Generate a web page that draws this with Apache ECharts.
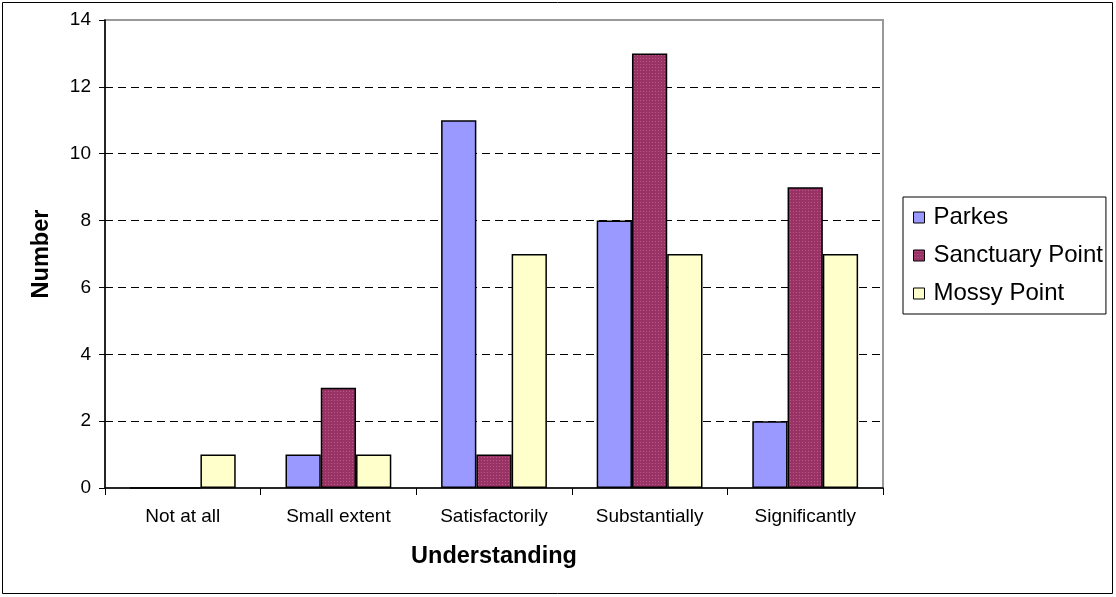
<!DOCTYPE html>
<html>
<head>
<meta charset="utf-8">
<script src="https://cdn.jsdelivr.net/npm/echarts@6/dist/echarts.min.js"></script>
<style>
  html, body { margin: 0; padding: 0; background: #fff; }
  #chart { width: 1116px; height: 597px; }
</style>
</head>
<body>
<div id="chart"></div>
<script>
const categories = ['Not at all', 'Small extent', 'Satisfactorily', 'Substantially', 'Significantly'];
const parkes = [0, 1, 11, 8, 2];
const sanctuaryPoint = [0, 3, 1, 13, 9];
const mossyPoint = [1, 1, 7, 7, 7];
const seriesNames = ['Parkes', 'Sanctuary Point', 'Mossy Point'];

// Dotted fill for the Sanctuary Point bars
function dotPattern() {
  const c = document.createElement('canvas');
  c.width = 3; c.height = 3;
  const g = c.getContext('2d');
  g.fillStyle = '#993366';
  g.fillRect(0, 0, 3, 3);
  g.fillStyle = '#b65a88';
  g.fillRect(1, 1, 1, 1);
  return c;
}

const font = 'Liberation Sans, Arial, sans-serif';
const chart = echarts.init(document.getElementById('chart'), null, { renderer: 'canvas' });

function bar(name, data, color) {
  return {
    name, type: 'bar', data,
    barGap: '0%', barCategoryGap: '32%',
    itemStyle: { color, borderColor: '#000', borderWidth: 1.5 },
    emphasis: { disabled: true },
    animation: false
  };
}

chart.setOption({
  animation: false,
  textStyle: { fontFamily: font },
  graphic: [{
    type: 'rect', shape: { x: 2.5, y: 2.5, width: 1110, height: 591 },
    style: { fill: 'none', stroke: '#000', lineWidth: 1 }, z: -1
  }],
  grid: {
    left: 105, right: 233, top: 20, bottom: 109,
    show: true, borderColor: '#999', borderWidth: 2, backgroundColor: '#fff'
  },
  legend: {
    orient: 'vertical', left: 903, top: 197,
    padding: [8, 3, 8, 10], itemGap: 13,
    backgroundColor: '#fff', borderColor: '#000', borderWidth: 1,
    icon: 'rect', itemWidth: 11, itemHeight: 11,
    textStyle: { fontSize: 24, lineHeight: 25, color: '#000', fontFamily: font, padding: [0, 0, 0, 4] },
    data: seriesNames.map(n => ({ name: n, itemStyle: { borderColor: '#000', borderWidth: 1 } })),
    selectedMode: false
  },
  xAxis: {
    type: 'category', data: categories,
    name: 'Understanding', nameLocation: 'middle', nameGap: 57,
    nameTextStyle: { fontSize: 23.5, fontWeight: 'bold', color: '#000', fontFamily: font },
    axisLine: { lineStyle: { color: '#000', width: 1.5 } },
    axisTick: { show: true, length: 7, lineStyle: { color: '#000' } },
    axisLabel: { fontSize: 19, color: '#000', margin: 19, fontFamily: font }
  },
  yAxis: {
    type: 'value', min: 0, max: 14, interval: 2,
    name: 'Number', nameLocation: 'middle', nameGap: 51, nameRotate: 90,
    nameTextStyle: { fontSize: 23.5, fontWeight: 'bold', color: '#000', fontFamily: font },
    axisLine: { show: true, lineStyle: { color: '#000', width: 1.5 } },
    axisTick: { show: true, length: 6, lineStyle: { color: '#000' } },
    axisLabel: { fontSize: 19, color: '#000', margin: 14, fontFamily: font },
    splitLine: {
      show: true, showMinLine: false, showMaxLine: false,
      lineStyle: { color: '#000', type: [8, 5], width: 1 }
    }
  },
  series: [
    bar(seriesNames[0], parkes, '#9999ff'),
    bar(seriesNames[1], sanctuaryPoint, { image: dotPattern(), repeat: 'repeat' }),
    bar(seriesNames[2], mossyPoint, '#ffffcc')
  ]
});
</script>
</body>
</html>
